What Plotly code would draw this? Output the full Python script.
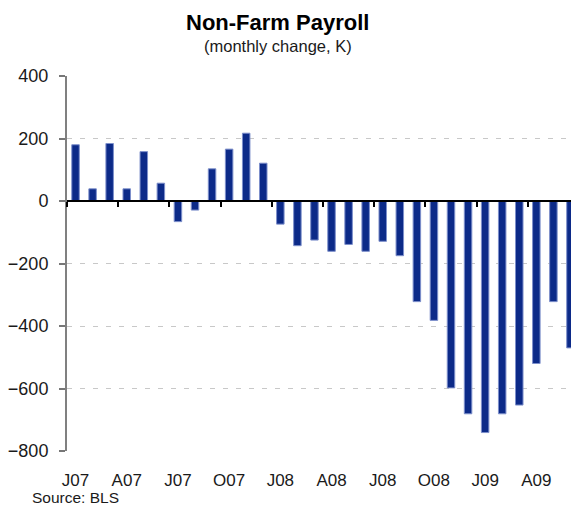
import plotly.graph_objects as go

months = ["Jan07","Feb07","Mar07","Apr07","May07","Jun07","Jul07","Aug07","Sep07","Oct07","Nov07","Dec07",
          "Jan08","Feb08","Mar08","Apr08","May08","Jun08","Jul08","Aug08","Sep08","Oct08","Nov08","Dec08",
          "Jan09","Feb09","Mar09","Apr09","May09","Jun09"]
payroll = [180, 39, 184, 39, 158, 57, -66, -29, 103, 166, 217, 121,
           -74, -143, -125, -161, -139, -161, -129, -175, -322, -382, -598, -681,
           -741, -681, -653, -520, -322, -470]
tick_text = ["J07", "A07", "J07", "O07", "J08", "A08", "J08", "O08", "J09", "A09"]
y_ticks = [400, 200, 0, -200, -400, -600, -800]

x = list(range(len(months)))
tick_pos = x[::3]
boundary_pos = [p - 0.5 for p in tick_pos]

FONT = "Liberation Sans, Arial, sans-serif"

fig = go.Figure()
fig.add_trace(go.Bar(
    x=x, y=payroll, width=0.44,
    marker=dict(color="#0c2a88", line=dict(color="#7d8fcb", width=1)),
    hovertext=months, showlegend=False,
))
fig.add_trace(go.Scatter(x=[], y=[], xaxis="x2", showlegend=False))

# page body has an 8px default margin, so the figure is 8px smaller
fig.update_layout(
    width=571, height=498,
    margin=dict(l=59, r=0, t=68, b=55, autoexpand=False),
    plot_bgcolor="white", paper_bgcolor="white",
    font=dict(family=FONT, color="#1a1a1a"),
    bargap=0.5,
    xaxis=dict(
        range=[-0.5, len(months) - 0.5], automargin=False,
        tickvals=tick_pos, ticktext=tick_text,
        ticks="", showline=False, showgrid=False, zeroline=False,
        tickfont=dict(size=17, color="#1a1a1a"),
        ticklabelstandoff=17,
    ),
    xaxis2=dict(
        overlaying="x", anchor="free", position=2/3, automargin=False,
        range=[-0.5, len(months) - 0.5],
        tickvals=boundary_pos, showticklabels=False,
        ticks="outside", ticklen=5, tickwidth=1.5, tickcolor="#000",
        showline=True, linecolor="#000", linewidth=1.5,
        showgrid=False, zeroline=False,
    ),
    yaxis=dict(
        range=[-800, 400], tickvals=y_ticks, automargin=False,
        ticks="outside", ticklen=6, tickwidth=1.5, tickcolor="#777",
        showline=True, linecolor="#808080", linewidth=2,
        showgrid=True, gridcolor="#c8c8c8", griddash="5px,8px", gridwidth=1,
        zeroline=False,
        tickfont=dict(size=18, color="#1a1a1a"),
        ticklabelstandoff=7,
    ),
    annotations=[
        dict(text="<b>Non-Farm Payroll</b>", xref="paper", yref="paper",
             x=0.412, y=1.144, xanchor="center", yanchor="middle",
             showarrow=False, font=dict(size=22, family=FONT, color="#000")),
        dict(text="(monthly change, K)", xref="paper", yref="paper",
             x=0.412, y=1.08, xanchor="center", yanchor="middle",
             showarrow=False, font=dict(size=16.5, family=FONT, color="#1a1a1a")),
        dict(text="Source: BLS", xref="paper", yref="paper",
             x=-0.072, y=-0.124, xanchor="left", yanchor="middle",
             showarrow=False, font=dict(size=15.5, family=FONT, color="#1a1a1a")),
    ],
)

fig.write_html("out.html")
